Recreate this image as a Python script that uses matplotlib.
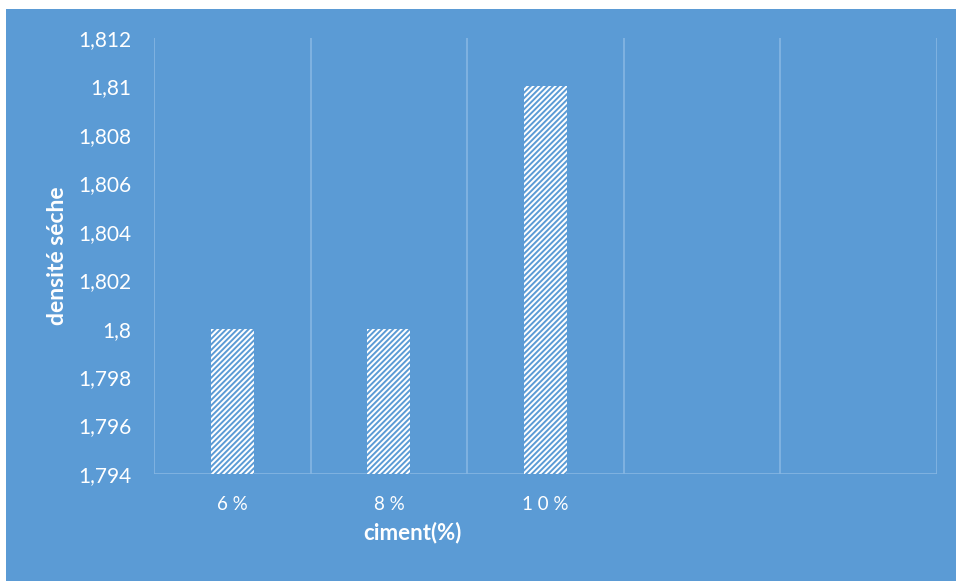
import matplotlib.pyplot as plt
from matplotlib.patches import Rectangle

categories = ["6 %", "8 %", "1 0 %", "", ""]
densite = [1.800, 1.800, 1.810, None, None]
y_ticks = [1.794, 1.796, 1.798, 1.800, 1.802, 1.804, 1.806, 1.808, 1.810, 1.812]
y_labels = ["1,794", "1,796", "1,798", "1,8", "1,802", "1,804", "1,806", "1,808", "1,81", "1,812"]

bleu = "#5B9BD5"
grille = "#86B6E3"

plt.rcParams["font.family"] = ["Lato", "DejaVu Sans"]
plt.rcParams["hatch.linewidth"] = 1.4

fig = plt.figure(figsize=(9.56, 5.81), dpi=100, facecolor="white")
fig.patches.append(Rectangle((6 / 956, 0), 1, 1 - 9 / 581, transform=fig.transFigure,
                             facecolor=bleu, edgecolor="none", zorder=-10))

ax = fig.add_axes([154 / 956, 1 - 474 / 581, 783 / 956, 436 / 581])
ax.set_facecolor("none")

xs = [i for i, v in enumerate(densite) if v is not None]
vals = [v for v in densite if v is not None]
ax.bar(xs, [v - 1.794 for v in vals], bottom=1.794, width=0.275,
       facecolor="white", edgecolor=bleu, linewidth=0, hatch="//////", zorder=2)

ax.set_xlim(-0.5, len(categories) - 0.5)
ax.set_ylim(1.794, 1.812)

# separations between categories
for b in [i - 0.5 for i in range(len(categories) + 1)]:
    ax.axvline(b, color=grille, linewidth=1.2, zorder=1)
ax.axhline(1.794, color=grille, linewidth=1.2, zorder=1)

for s in ax.spines.values():
    s.set_visible(False)

ax.set_yticks(y_ticks)
ax.set_yticklabels(y_labels, fontsize=15, color="white")
ax.set_xticks(range(len(categories)))
ax.set_xticklabels(categories, fontsize=13.5, color="white")
ax.tick_params(length=0)
ax.tick_params(axis="y", pad=16.5)
ax.tick_params(axis="x", pad=16)

fig.text(412 / 956, 1 - 533 / 581, "ciment(%)", color="white", fontsize=16,
         fontweight="bold", ha="center", va="center")
fig.text(58 / 956, 1 - 256 / 581, "densité séche", color="white", fontsize=16.5,
         fontweight="bold", ha="center", va="center", rotation=90)

fig.savefig("out.png", dpi=100, facecolor=fig.get_facecolor())
